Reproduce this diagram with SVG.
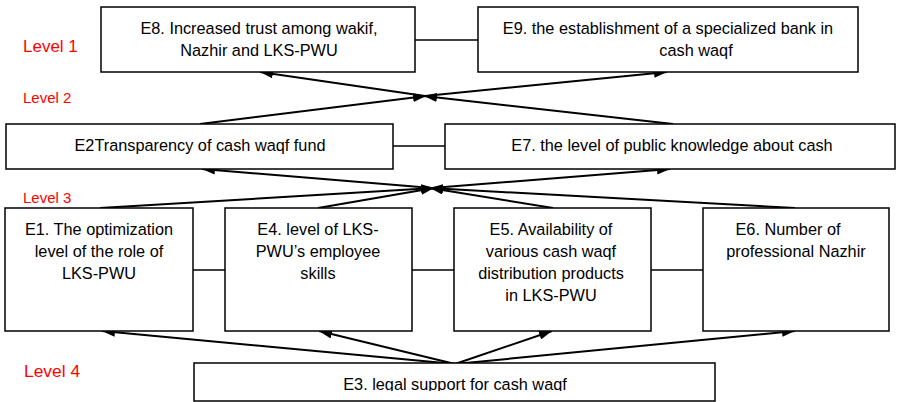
<svg xmlns="http://www.w3.org/2000/svg" width="897" height="402" viewBox="0 0 897 402">
<style>
.box{fill:#fff;stroke:#000;stroke-width:1.5}
.t{font-family:"Liberation Sans",Arial,sans-serif;font-size:16.3px;fill:#000;text-anchor:middle}
.lv{font-family:"Liberation Sans",Arial,sans-serif;fill:#ff0000}
.ln{stroke:#000;stroke-width:1.5;fill:none}
.ar{stroke:#000;stroke-width:2;fill:none;marker-end:url(#ah)}
.pl{stroke:#000;stroke-width:2;fill:none}
</style>
<defs>
<marker id="ah" markerWidth="13" markerHeight="9" refX="13" refY="4.5" orient="auto" markerUnits="userSpaceOnUse"><path d="M0,0 L13,4.5 L0,9 z" fill="#000"/></marker>
<clipPath id="c3"><rect x="194" y="363" width="521" height="28"/></clipPath>
</defs>
<rect width="897" height="402" fill="#fff"/>
<g id="levels">
<text class="lv" x="23" y="52" font-size="17px">Level 1</text>
<text class="lv" x="23" y="103" font-size="15px">Level 2</text>
<text class="lv" x="23" y="203" font-size="15px">Level 3</text>
<text class="lv" x="24" y="377" font-size="17.4px">Level 4</text>
</g>
<g id="connectors">
<line class="ln" x1="415" y1="40" x2="478" y2="40"/>
<line class="ln" x1="393" y1="146" x2="445" y2="146"/>
<line class="ln" x1="193" y1="270" x2="225" y2="270"/>
<line class="ln" x1="412" y1="270" x2="454" y2="270"/>
<line class="ln" x1="651" y1="270" x2="703" y2="270"/>
<line class="ar" x1="455" y1="364" x2="102" y2="331"/>
<line class="ar" x1="455" y1="364" x2="319" y2="331"/>
<line class="ar" x1="455" y1="364" x2="552" y2="331"/>
<line class="ar" x1="455" y1="364" x2="795" y2="331"/>
<line class="ar" x1="100" y1="208" x2="434" y2="188"/>
<line class="ar" x1="318" y1="208" x2="434" y2="188"/>
<line class="ar" x1="553" y1="208" x2="430" y2="188"/>
<line class="ar" x1="795" y1="208" x2="430" y2="188"/>
<line class="ar" x1="432" y1="188" x2="202" y2="169"/>
<line class="ar" x1="432" y1="188" x2="670" y2="169"/>
<line class="ar" x1="200" y1="124" x2="426" y2="96"/>
<line class="ar" x1="673" y1="124" x2="424" y2="96"/>
<line class="ar" x1="425" y1="96" x2="260" y2="72"/>
<line class="ar" x1="425" y1="96" x2="667" y2="72"/>
</g>
<g id="E8">
<rect class="box" x="101" y="7" width="314" height="65"/>
<text class="t" x="259" y="34" font-size="16.5px">E8. Increased trust among wakif,</text>
<text class="t" x="259" y="56" font-size="16.5px">Nazhir and LKS-PWU</text>
</g>
<g id="E9">
<rect class="box" x="478" y="7" width="380" height="65"/>
<text class="t" x="668" y="34">E9. the establishment of a specialized bank in</text>
<text class="t" x="696" y="56">cash waqf</text>
</g>
<g id="E2">
<rect class="box" x="6" y="124" width="387" height="45"/>
<text class="t" x="200" y="151">E2Transparency of cash waqf fund</text>
</g>
<g id="E7">
<rect class="box" x="445" y="124" width="450" height="45"/>
<text class="t" x="672" y="151">E7. the level of public knowledge about cash</text>
</g>
<g id="E1">
<rect class="box" x="5" y="208" width="188" height="123"/>
<text class="t" x="99" y="235">E1. The optimization</text>
<text class="t" x="99" y="257">level of the role of</text>
<text class="t" x="99" y="279">LKS-PWU</text>
</g>
<g id="E4">
<rect class="box" x="225" y="208" width="187" height="123"/>
<text class="t" x="318" y="235">E4. level of LKS-</text>
<text class="t" x="318" y="257">PWU’s employee</text>
<text class="t" x="318" y="279">skills</text>
</g>
<g id="E5">
<rect class="box" x="454" y="208" width="197" height="123"/>
<text class="t" x="551" y="235">E5. Availability of</text>
<text class="t" x="551" y="257">various cash waqf</text>
<text class="t" x="551" y="279">distribution products</text>
<text class="t" x="551" y="301">in LKS-PWU</text>
</g>
<g id="E6">
<rect class="box" x="703" y="208" width="186" height="123"/>
<text class="t" x="788" y="235">E6. Number of</text>
<text class="t" x="796" y="257">professional Nazhir</text>
</g>
<g id="E3">
<rect class="box" x="194" y="363" width="521" height="38"/>
<text class="t" x="455" y="390" clip-path="url(#c3)">E3. legal support for cash waqf</text>
</g>
</svg>
